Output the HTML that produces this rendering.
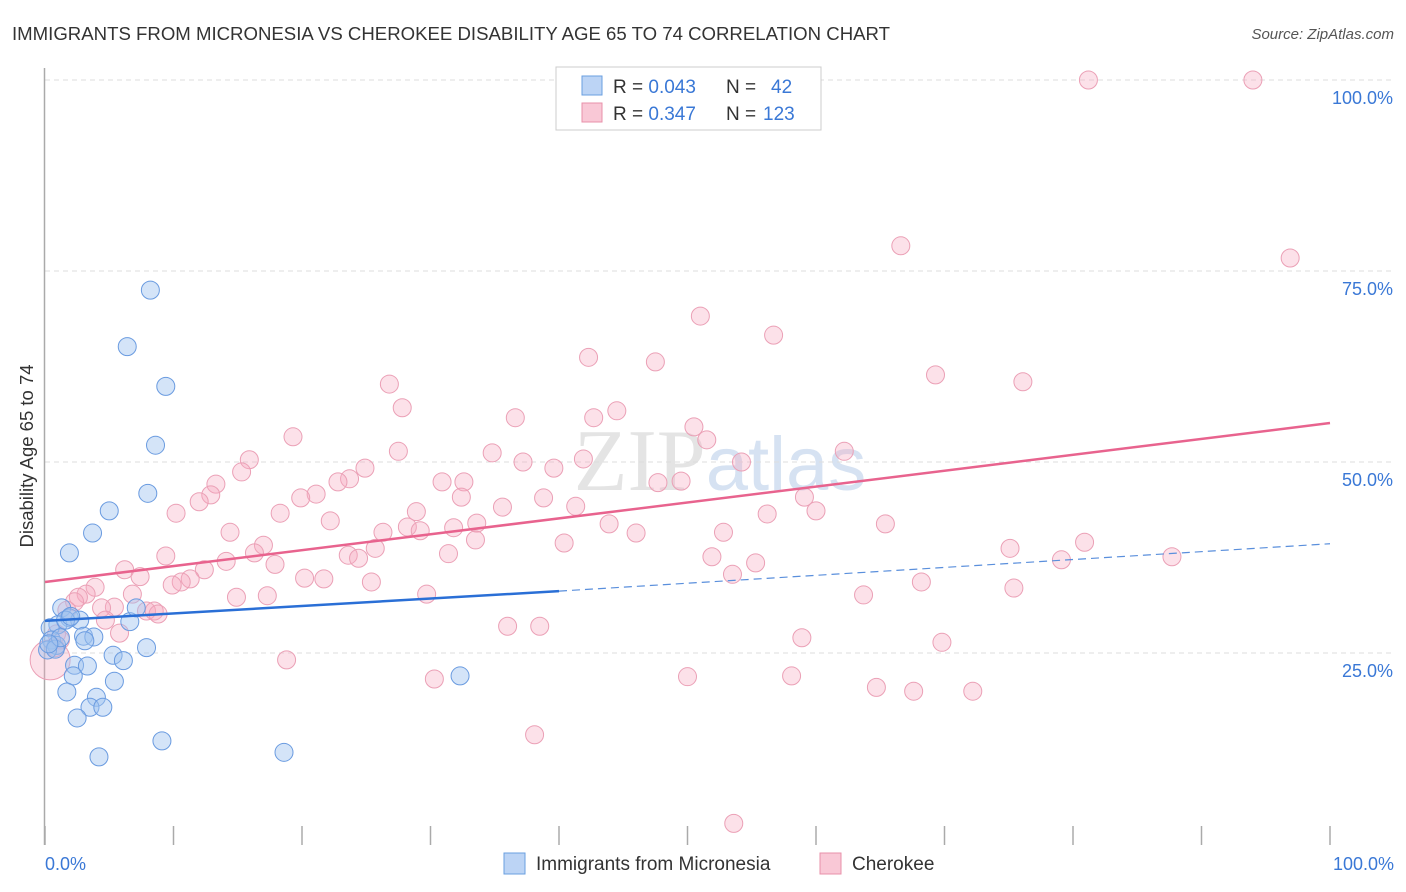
<!DOCTYPE html>
<html><head><meta charset="utf-8">
<style>
body{margin:0;background:#fff;font-family:"Liberation Sans",sans-serif;}
#wrap{position:relative;width:1406px;height:892px;overflow:hidden;}
</style></head>
<body>
<div id="wrap">
<svg id="svg" width="1406" height="892" xmlns="http://www.w3.org/2000/svg">
<text x="12" y="40" font-size="18" fill="#333" textLength="878" lengthAdjust="spacingAndGlyphs">IMMIGRANTS FROM MICRONESIA VS CHEROKEE DISABILITY AGE 65 TO 74 CORRELATION CHART</text>
<text x="1394" y="39" font-size="15" fill="#555" font-style="italic" text-anchor="end">Source: ZipAtlas.com</text>
<text x="720" y="490" font-size="88" fill="#e4e4e4" text-anchor="middle" font-family="Liberation Serif,serif">ZIP<tspan fill="#d6e2f2" font-family="Liberation Sans,sans-serif" font-size="76">atlas</tspan></text>
<g id="grid"></g>
<line x1="44.5" y1="68" x2="44.5" y2="845" stroke="#aaa" stroke-width="1.5"/>
<g id="ticks"></g>
<text x="33" y="456" font-size="18.5" fill="#333" text-anchor="middle" transform="rotate(-90 33 456)">Disability Age 65 to 74</text>
<text x="45" y="870" font-size="18" fill="#3a78d6">0.0%</text>
<text x="1394" y="870" font-size="18" fill="#3a78d6" text-anchor="end">100.0%</text>
<g id="pts"></g>
<g id="lines"></g>
<g>
<rect x="556" y="67" width="265" height="63" fill="#fff" stroke="#ccc"/>
<rect x="582" y="76" width="20" height="19" fill="#bcd4f5" stroke="#6a9fe0"/>
<rect x="582" y="103" width="20" height="19" fill="#f9c8d6" stroke="#e890aa"/>
<text x="613" y="93" font-size="19" fill="#333">R = <tspan fill="#3a78d6">0.043</tspan><tspan x="726">N = </tspan><tspan x="771" fill="#3a78d6">42</tspan></text>
<text x="613" y="120" font-size="19" fill="#333">R = <tspan fill="#3a78d6">0.347</tspan><tspan x="726">N = </tspan><tspan x="763" fill="#3a78d6">123</tspan></text>
</g>
<g>
<rect x="504" y="853" width="21" height="21" fill="#bcd4f5" stroke="#6a9fe0"/>
<text x="536" y="870" font-size="19" fill="#333">Immigrants from Micronesia</text>
<rect x="820" y="853" width="21" height="21" fill="#f9c8d6" stroke="#e890aa"/>
<text x="852" y="870" font-size="19" fill="#333">Cherokee</text>
</g>
</svg>
</div>
<script>
const blueX=[8.2,6.4,9.4,8.6,8.0,5.0,3.7,1.9,1.3,1.9,2.7,1.0,0.4,0.5,0.9,0.2,3.0,3.8,3.1,6.6,7.1,7.9,5.3,6.1,2.3,3.3,2.2,5.4,32.3,1.7,4.0,3.5,4.5,2.5,9.1,18.6,4.2,1.6,0.8,1.2,2.0,0.3];
const blueY=[72.5,65.1,59.9,52.2,45.9,43.6,40.7,38.1,30.9,29.6,29.3,28.7,28.3,26.7,26.0,25.4,27.2,27.1,26.6,29.1,30.9,25.7,24.7,24.0,23.4,23.3,22.0,21.3,22.0,19.9,19.2,17.9,17.9,16.5,13.5,12.0,11.4,29.3,25.5,27.0,29.8,26.2];
const pinkX=[81.2,94.0,66.6,96.9,51.0,56.7,42.3,47.5,69.3,76.1,26.8,27.8,36.6,42.7,44.5,50.5,51.5,19.3,27.5,34.8,15.9,41.9,54.2,62.2,37.2,15.3,24.9,39.6,23.7,22.8,30.9,32.6,47.7,49.5,13.3,12.9,21.1,19.9,32.4,38.8,59.1,12.0,10.2,35.6,41.3,60.0,56.2,18.3,28.9,22.2,33.6,43.9,65.4,14.4,26.3,28.2,29.2,31.8,46.0,52.8,33.5,40.4,17.0,25.7,80.9,75.1,9.4,16.3,23.6,31.4,24.4,51.9,79.1,87.7,14.1,17.9,55.3,6.2,12.4,7.4,53.5,20.2,21.7,11.3,10.6,9.9,25.4,68.2,3.9,75.4,3.2,6.8,2.6,14.9,17.3,29.7,63.7,2.3,5.4,4.4,7.9,8.5,8.8,4.7,1.7,36.0,38.5,5.8,58.9,69.8,0.9,18.8,30.3,50.0,58.1,64.7,67.6,72.2,38.1,53.6,1.2,0.8,0.4];
const pinkY=[100,100,78.3,76.7,69.1,66.6,63.7,63.1,61.4,60.5,60.2,57.1,55.8,55.8,56.7,54.6,52.9,53.3,51.4,51.2,50.3,50.4,50.0,51.4,50.0,48.7,49.2,49.2,47.8,47.4,47.4,47.4,47.3,47.5,47.1,45.7,45.8,45.3,45.4,45.3,45.4,44.8,43.3,44.1,44.2,43.6,43.2,43.3,43.5,42.3,42.0,41.9,41.9,40.8,40.8,41.5,41.0,41.4,40.7,40.8,39.8,39.4,39.1,38.7,39.5,38.7,37.7,38.1,37.8,38.0,37.4,37.6,37.2,37.6,37.0,36.6,36.8,35.9,35.9,35.0,35.3,34.8,34.7,34.7,34.3,33.9,34.3,34.3,33.6,33.5,32.7,32.7,32.3,32.3,32.5,32.7,32.6,31.7,31.0,30.9,30.5,30.5,30.1,29.3,30.6,28.5,28.5,27.6,27.0,26.4,27.5,24.1,21.6,21.9,22.0,20.5,20.0,20.0,14.3,2.7,26.7,25.7,24.1];
const yTicks=[25,50,75,100];
const yTickLabels=["25.0%","50.0%","75.0%","100.0%"];
const blueLine=[29.2,33.1,39.3];
const pinkLine=[34.3,55.1];
const NS="http://www.w3.org/2000/svg";
const X=v=>45+v*12.85;
const Y=v=>844-v*7.64;
function mk(tag,attrs,parent){const e=document.createElementNS(NS,tag);for(const k in attrs)e.setAttribute(k,attrs[k]);parent.appendChild(e);return e;}
const grid=document.getElementById('grid');
yTicks.forEach((t,i)=>{
  const l=mk('line',{x1:45,x2:1394,y1:Y(t),y2:Y(t),stroke:'#ddd','stroke-dasharray':'5,4'},grid);
  
  
  const tx=mk('text',{x:1393,y:Y(t)+24,'font-size':18,fill:'#3a78d6','text-anchor':'end'},grid);
  tx.textContent=yTickLabels[i];
  
  
});
const ticks=document.getElementById('ticks');
for(let i=0;i<=10;i++){
  const l=mk('line',{x1:X(i*10),x2:X(i*10),y1:826,y2:845,stroke:'#aaa','stroke-width':1.5},ticks);
  
  
}
const pts=document.getElementById('pts');
pinkX.forEach((x,i)=>{
  const r=(i===pinkX.length-1)?20:9;
  const c=mk('circle',{cx:X(x),cy:Y(pinkY[i]),r:r,fill:'rgba(245,170,192,0.35)',stroke:'#eba0b6','stroke-width':1},pts);
  
  
});
blueX.forEach((x,i)=>{
  const c=mk('circle',{cx:X(x),cy:Y(blueY[i]),r:9,fill:'rgba(160,195,240,0.45)',stroke:'#6a9be0','stroke-width':1},pts);
  
  
});
const lines=document.getElementById('lines');
let a=mk('line',{x1:X(0),y1:Y(pinkLine[0]),x2:X(100),y2:Y(pinkLine[1]),stroke:'#e8638e','stroke-width':2.5},lines);


let b=mk('line',{x1:X(0),y1:Y(blueLine[0]),x2:X(40),y2:Y(blueLine[1]),stroke:'#2a6fd6','stroke-width':2.5},lines);


let c2=mk('line',{x1:X(40),y1:Y(blueLine[1]),x2:X(100),y2:Y(blueLine[2]),stroke:'#5a8fdc','stroke-width':1.2,'stroke-dasharray':'8,5'},lines);


</script>
</body></html>
